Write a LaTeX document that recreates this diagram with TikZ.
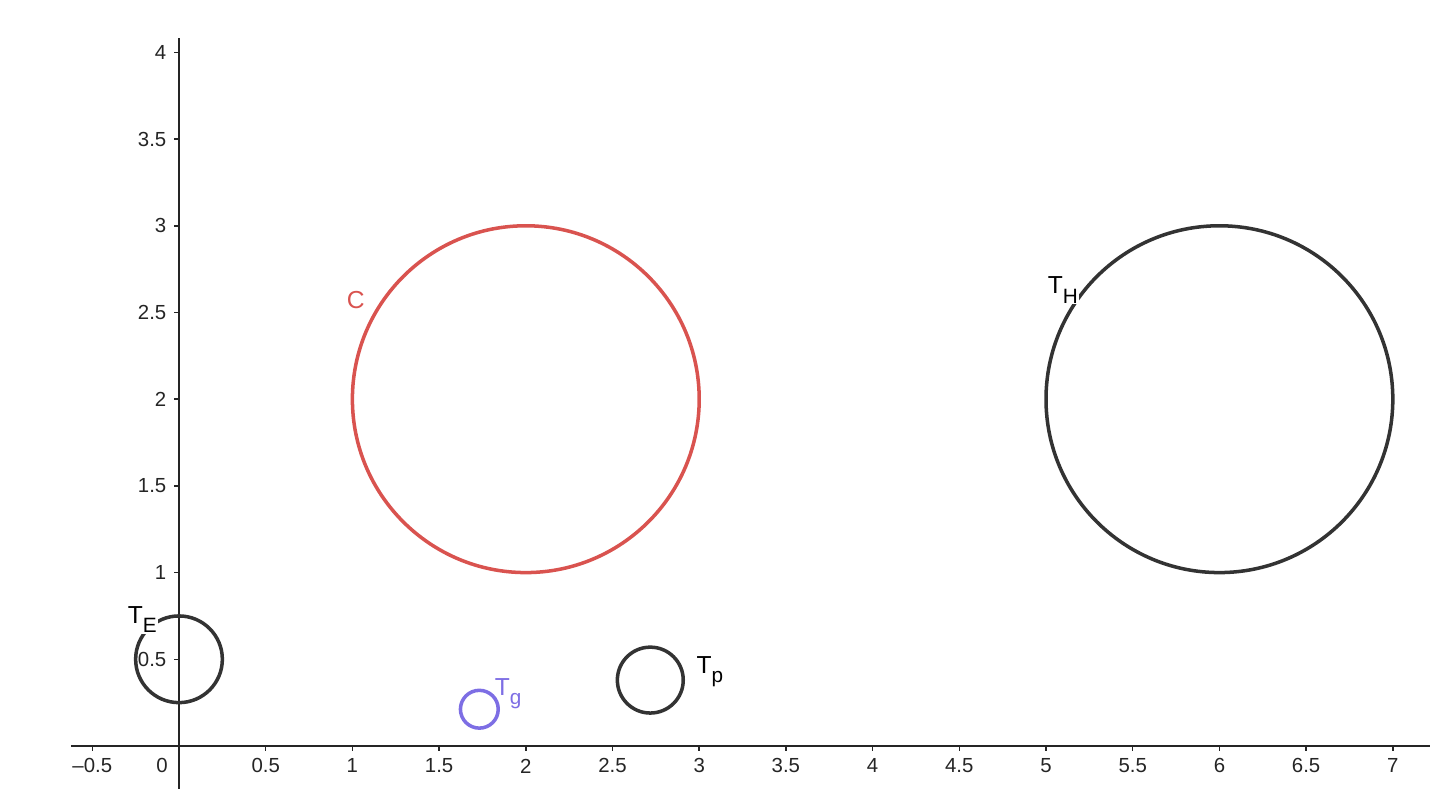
\documentclass[tikz,border=0pt]{standalone}
\usepackage{fontspec}
\setmainfont{Liberation Sans}
\definecolor{cred}{RGB}{217,83,79}
\definecolor{cviolet}{RGB}{125,110,228}
\definecolor{cdark}{RGB}{51,51,51}
\definecolor{caxis}{RGB}{37,37,37}
\tikzset{
  orbit/.style    = {line width=1pt, draw=cdark},
  axis/.style     = {line width=0.42pt, draw=caxis},
  ticklab/.style  = {font=\fontsize{5.8}{6}\selectfont, text=caxis, inner sep=0pt},
  curvelab/.style = {font=\fontsize{7}{8}\selectfont, fill=white, inner sep=0.3pt, anchor=base west}
}
\newcommand{\sublab}[2]{#1\raisebox{-2.7pt}{\fontsize{5.9}{6}\selectfont #2}}

\begin{document}
\begin{tikzpicture}[x=1.734cm, y=1.734cm]
  \useasboundingbox (-1.0323,-0.2480) rectangle (7.2145,4.3022);
  % axes
  \draw[axis] (-0.623,0) -- (7.2145,0);
  \draw[axis] (0,-0.2480) -- (0,4.083);
  \foreach \x [count=\i] in {-0.5,0.5,1,1.5,2,2.5,3,3.5,4,4.5,5,5.5,6,6.5,7} {
    \draw[axis] (\x,0) -- ++(0,-0.029);
  }
  \foreach \x [count=\i] in {0.5,1,1.5,2,2.5,3,3.5,4,4.5,5,5.5,6,6.5,7} {
    \node[ticklab] (xl\i) at (\x,-0.115) {\x};
  }
  \node[ticklab] (xlm) at (-0.5,-0.115) {\textendash0.5};
  \node[ticklab] (xl0) at (-0.098,-0.115) {0};
  \foreach \y [count=\i] in {0.5,1,1.5,2,2.5,3,3.5,4} {
    \draw[axis] (0,\y) -- ++(-0.029,0);
    \node[ticklab, anchor=east] (yl\i) at (-0.069,\y) {\y};
  }
  % orbits
  \draw[orbit, draw=cred]    (2,2) circle[radius=1];
  \draw[orbit]               (6,2) circle[radius=1];
  \draw[orbit]               (0,0.5) circle[radius=0.25];
  \draw[orbit]               (2.718,0.38) circle[radius=0.19];
  \draw[orbit, draw=cviolet] (1.732,0.212) circle[radius=0.109];
  % labels
  \node[curvelab, anchor=center, text=cred] (lC) at (1.02,2.572) {C};
  \node[curvelab]               (lE) at (-0.305,0.708) {\sublab{T}{E}};
  \node[curvelab]               (lH) at (5.0,2.607)    {\sublab{T}{H}};
  \node[curvelab]               (lp) at (2.975,0.419)  {\sublab{T}{p}};
  \node[curvelab, fill=none, text=cviolet] (lg) at (1.812,0.294) {\sublab{T}{g}};
\end{tikzpicture}
\end{document}
